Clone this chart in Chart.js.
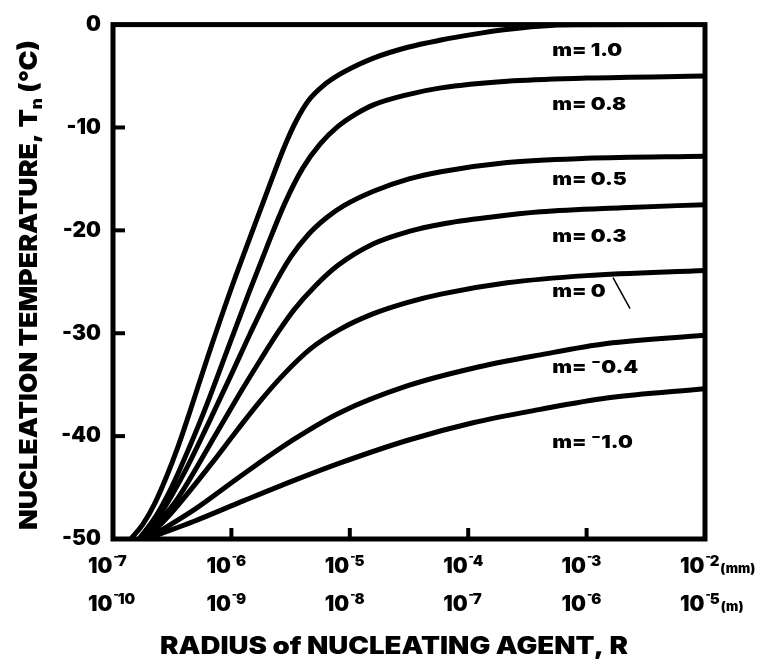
<!DOCTYPE html>
<html><head><meta charset="utf-8">
<script src="https://cdn.jsdelivr.net/npm/chart.js@4.4.1/dist/chart.umd.min.js"></script>
<style>html,body{margin:0;padding:0;background:#fff;}canvas{display:block;}</style>
</head><body>
<canvas id="c" width="780" height="662"></canvas>
<script>
// ---- data (radius as log10 of R in mm, temperature in °C) ----
const seriesNames = ['m= 1.0','m= 0.8','m= 0.5','m= 0.3','m= 0','m= -0.4','m= -1.0'];

const logR_m10  = [-6.85,-6.75,-6.65,-6.55,-6.45,-6.35,-6.20,-6.00,-5.84,-5.69,-5.55,-5.45,-5.35,-5.22,-5.08,-4.93,-4.80,-4.51,-4.23,-3.96,-3.70,-3.40,-3.10,-2.00];
const temp_m10  = [-50.0,-48.6,-46.6,-44.0,-41.0,-37.6,-32.3,-25.6,-20.6,-16.0,-11.8,-9.3,-7.4,-5.9,-4.8,-3.9,-3.25,-2.2,-1.5,-0.95,-0.5,-0.15,-0.02,0.0];

const logR_m08  = [-6.78,-6.65,-6.55,-6.45,-6.23,-6.03,-5.85,-5.70,-5.55,-5.40,-5.25,-5.10,-4.95,-4.80,-4.51,-4.23,-3.67,-3.00,-2.00];
const temp_m08  = [-50.0,-48.0,-46.0,-43.6,-37.6,-31.5,-26.0,-21.6,-17.4,-14.0,-11.6,-9.9,-8.7,-7.8,-6.8,-6.15,-5.5,-5.2,-5.0];

const logR_m05  = [-6.75,-6.60,-6.40,-6.20,-6.00,-5.84,-5.67,-5.50,-5.35,-5.20,-5.05,-4.80,-4.50,-4.23,-3.67,-3.00,-2.00];
const temp_m05  = [-50.0,-47.6,-43.6,-38.9,-34.0,-30.0,-26.0,-22.6,-20.4,-18.8,-17.6,-16.2,-15.0,-14.3,-13.4,-13.0,-12.8];

const logR_m03  = [-6.75,-6.60,-6.45,-6.12,-5.90,-5.75,-5.60,-5.47,-5.30,-5.10,-4.80,-4.50,-4.23,-3.80,-3.39,-2.70,-2.00];
const temp_m03  = [-50.0,-48.2,-46.0,-39.6,-35.3,-32.5,-29.8,-27.7,-25.5,-23.4,-21.3,-20.1,-19.4,-18.7,-18.2,-17.8,-17.5];

const logR_m00  = [-6.72,-6.51,-6.17,-5.95,-5.75,-5.55,-5.33,-5.08,-4.80,-4.51,-4.23,-3.67,-3.00,-2.00];
const temp_m00  = [-50.0,-47.5,-42.7,-39.4,-36.5,-33.9,-31.5,-29.6,-28.1,-27.0,-26.2,-25.1,-24.4,-23.9];

const logR_mn04 = [-6.72,-6.60,-6.32,-5.90,-5.47,-5.08,-4.51,-3.96,-3.39,-2.83,-2.00];
const temp_mn04 = [-50.0,-49.2,-47.2,-43.7,-40.3,-37.7,-35.1,-33.4,-32.1,-31.0,-30.2];

const logR_mn10 = [-6.72,-6.60,-6.32,-5.90,-5.47,-5.08,-4.51,-3.96,-3.39,-2.83,-2.00];
const temp_mn10 = [-50.0,-49.5,-48.3,-46.3,-44.3,-42.6,-40.4,-38.7,-37.4,-36.3,-35.4];

// stray pointer stroke next to the m=0 label
const logR_pointer = [-2.777,-2.633];
const temp_pointer = [-24.6,-27.6];

// curve labels
const labelText = ['m= 1.0','m= 0.8','m= 0.5','m= 0.3','m= 0','m= \u207B0.4','m= \u207B1.0'];
const labelTemp = [-2.5,-7.8,-15.1,-20.6,-26.0,-33.3,-40.6];
const labelLogR = -3.29;

// axis ticks
const xTickExpMM = [-7,-6,-5,-4,-3,-2];
const xTickExpM  = [-10,-9,-8,-7,-6,-5];
const yTickValues = [0,-10,-20,-30,-40,-50];
const xTitle = 'RADIUS of NUCLEATING AGENT, R';
const yTitleMain = 'NUCLEATION TEMPERATURE, T';
const yTitleSub = 'n';
const yTitleEnd = ' (\u00B0C)';

const FONT = 'Inter, "Liberation Sans", Arial, sans-serif';
const W = '900';

function pts(lr, t){ return lr.map((e,i)=>({x: Math.pow(10,e), y: t[i]})); }

const curves = [
  [logR_m10,temp_m10],[logR_m08,temp_m08],[logR_m05,temp_m05],[logR_m03,temp_m03],
  [logR_m00,temp_m00],[logR_mn04,temp_mn04],[logR_mn10,temp_mn10]
];
const datasets = curves.map((c,i)=>({
  label: seriesNames[i], data: pts(c[0],c[1]),
  borderColor:'#000', borderWidth:5, pointRadius:0, fill:false,
  cubicInterpolationMode:'monotone', borderCapStyle:'round', borderJoinStyle:'round'
}));
datasets.push({label:'pointer', data: pts(logR_pointer,temp_pointer), borderColor:'#000', borderWidth:1.5, pointRadius:0, fill:false, tension:0});

function f(size){ return W+' '+size+'px '+FONT; }

function drawFitted(ctx, parts, width){
  let total = 0;
  parts.forEach(p=>{ ctx.font = f(p.size); p.w = ctx.measureText(p.t).width; total += p.w; });
  const sx = width ? width/total : 1;
  ctx.scale(sx,1);
  let cx = -total/2;
  parts.forEach(p=>{ ctx.font = f(p.size); ctx.fillText(p.t, cx, p.dy||0); cx += p.w; });
}

function drawPow(ctx, x0, base, e, unit){
  ctx.textAlign='left'; ctx.textBaseline='alphabetic';
  ctx.font = f(21);
  ctx.fillText('10', x0, base);
  let cx = x0 + ctx.measureText('10').width + 1;
  ctx.font = f(11);
  ctx.fillText('-', cx, base-13);
  cx += ctx.measureText('-').width - 1;
  ctx.font = f(15);
  const s = String(Math.abs(e));
  ctx.fillText(s, cx, base-7);
  cx += ctx.measureText(s).width + 1;
  if (unit){ ctx.font = f(13); ctx.fillText(unit, cx, base); }
}

const decor = {
  id:'decor',
  afterDatasetsDraw(chart){
    const {ctx, chartArea:a, scales:{x,y}} = chart;
    ctx.save();
    ctx.fillStyle='#000'; ctx.strokeStyle='#000';
    // frame
    ctx.lineWidth = 5;
    ctx.strokeRect(a.left, a.top, a.right-a.left, a.bottom-a.top);
    // inward tick marks
    ctx.lineWidth = 4;
    xTickExpMM.slice(1,-1).forEach(e=>{
      const px = x.getPixelForValue(Math.pow(10,e));
      ctx.beginPath(); ctx.moveTo(px, a.bottom); ctx.lineTo(px, a.bottom-11); ctx.stroke();
    });
    yTickValues.slice(1,-1).forEach(v=>{
      const py = y.getPixelForValue(v);
      ctx.beginPath(); ctx.moveTo(a.left, py); ctx.lineTo(a.left+12, py); ctx.stroke();
    });
    // curve labels (common horizontal scale so that "m= 1.0" is ~70px wide)
    ctx.font = f(18);
    const k = 70 / ctx.measureText(labelText[0]).width;
    labelText.forEach((t,i)=>{
      const px = x.getPixelForValue(Math.pow(10,labelLogR));
      const py = y.getPixelForValue(labelTemp[i]);
      ctx.save();
      ctx.translate(px, py); ctx.scale(k,1);
      ctx.font = f(18); ctx.textAlign='left'; ctx.textBaseline='middle';
      ctx.fillText(t, 0, 0);
      ctx.restore();
    });
    // x tick labels (two rows: mm and m)
    xTickExpMM.forEach((e,i)=>{
      const px = x.getPixelForValue(Math.pow(10,e));
      const last = i === xTickExpMM.length-1;
      drawPow(ctx, px-25, 573, e, last ? '(mm)' : null);
      drawPow(ctx, px-25, 611, xTickExpM[i], last ? '(m)' : null);
    });
    // x title
    ctx.save();
    ctx.translate(394, 654);
    ctx.textAlign='left'; ctx.textBaseline='alphabetic';
    drawFitted(ctx, [{t:xTitle, size:24}], 468);
    ctx.restore();
    // y title
    ctx.save();
    ctx.translate(37, 285);
    ctx.rotate(-Math.PI/2);
    ctx.textAlign='left'; ctx.textBaseline='alphabetic';
    drawFitted(ctx, [{t:yTitleMain,size:25},{t:yTitleSub,size:16,dy:5},{t:yTitleEnd,size:25}], 490);
    ctx.restore();
    ctx.restore();
  }
};

new Chart(document.getElementById('c'), {
  type:'line',
  data:{datasets},
  options:{
    responsive:false, devicePixelRatio:1, animation:false,
    layout:{padding:{top:20, right:75, left:0, bottom:0}},
    plugins:{legend:{display:false}, tooltip:{enabled:false}},
    scales:{
      x:{type:'logarithmic', min:1e-7, max:1e-2,
         ticks:{display:false}, grid:{display:false, drawTicks:false}, border:{display:false},
         afterFit(s){ s.height = 123; }},
      y:{type:'linear', min:-50, max:0,
         ticks:{stepSize:10, color:'#000', padding:12, font:{family:FONT, size:21, weight:W},
                callback:v=>String(v)},
         grid:{display:false, drawTicks:false}, border:{display:false},
         afterFit(s){ s.width = 113; }}
    }
  },
  plugins:[decor]
});
</script>
</body></html>
